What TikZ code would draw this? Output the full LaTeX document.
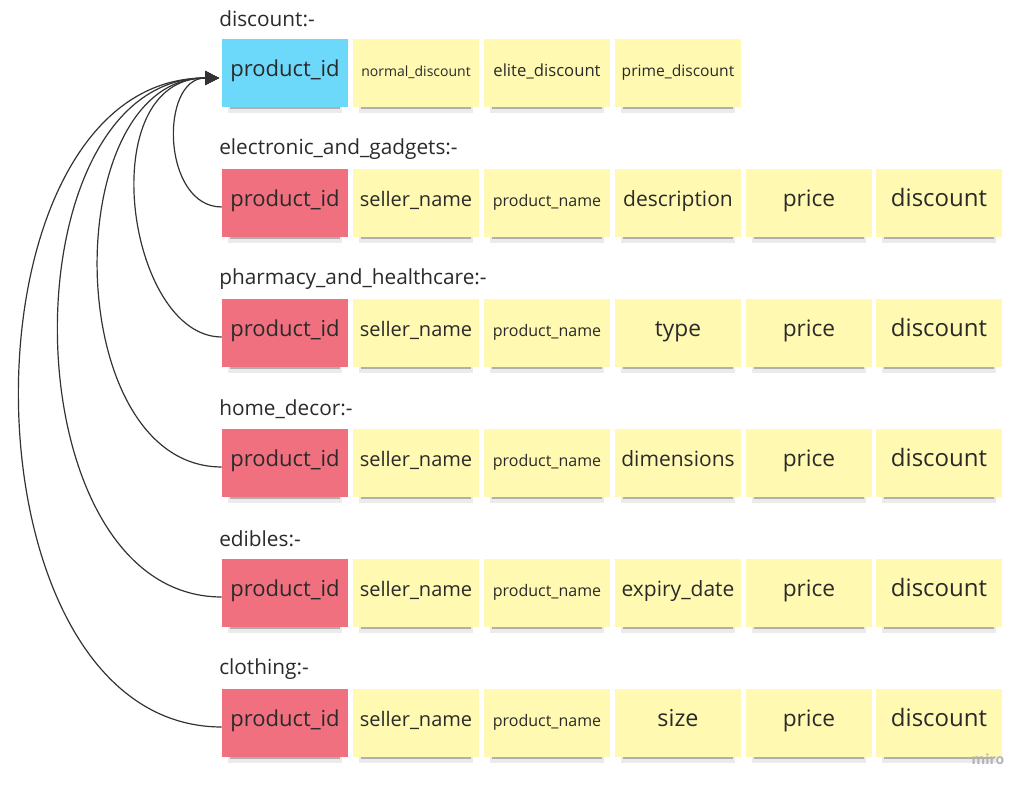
\documentclass[tikz,border=0pt]{standalone}
\usepackage{fontspec}
\setmainfont{Open Sans}
\usetikzlibrary{arrows.meta,shadows}

\definecolor{stickyyellow}{HTML}{FFF9B1}
\definecolor{stickypink}{HTML}{F0707F}
\definecolor{stickyblue}{HTML}{6CD8FA}
\definecolor{inktext}{HTML}{2A2A2A}

\begin{document}
\begin{tikzpicture}[
	x=0.75pt, y=0.75pt,
	note/.style={
		minimum width=94.5pt, minimum height=51pt,
		inner sep=0pt, align=center, text=inktext,
		text height=.78em, text depth=.22em,
		general shadow={fill=black, opacity=.08, shadow scale=.9, shadow yshift=-7.5pt},
		general shadow={fill=black, opacity=.25, shadow scale=.88, shadow yshift=-5.5pt},
	},
	fs/.style={font=\fontsize{#1}{#1}\selectfont},
	field/.style={note, fill=stickyyellow},
	pkey/.style={note, fill=stickyblue, fs=16.5},
	fkey/.style={note, fill=stickypink, fs=16.5},
	tname/.style={anchor=west, inner sep=0pt, text=inktext, fs=15.6},
	link/.style={draw=black!80, line width=0.9pt, -{Triangle[length=10.5pt,width=10.5pt]}},
]
\useasboundingbox (0,0) rectangle (1028,787);

% discount
\node[tname] (t-disc) at (219,768) {discount:-};
\node[pkey] (disc-id) at (285,714) {product\_id};
\node[field,fs=10.5] (disc-normal) at (416,714) {normal\_discount};
\node[field,fs=12.5] (disc-elite) at (547,714) {elite\_discount};
\node[field,fs=11.7] (disc-prime) at (678,714) {prime\_discount};

% electronic_and_gadgets
\node[tname] (t-eg) at (219,638) {electronic\_and\_gadgets:-};
\node[fkey] (eg-id) at (285,584) {product\_id};
\node[field,fs=15] (eg-seller) at (416,584) {seller\_name};
\node[field,fs=12] (eg-name) at (547,584) {product\_name};
\node[field,fs=15.75] (eg-desc) at (678,584) {description};
\node[field,fs=17] (eg-price) at (809,584) {price};
\node[field,fs=18] (eg-disc) at (939,584) {discount};

% pharmacy_and_healthcare
\node[tname] (t-ph) at (219,508) {pharmacy\_and\_healthcare:-};
\node[fkey] (ph-id) at (285,454) {product\_id};
\node[field,fs=15] (ph-seller) at (416,454) {seller\_name};
\node[field,fs=12] (ph-name) at (547,454) {product\_name};
\node[field,fs=17] (ph-type) at (678,454) {type};
\node[field,fs=17] (ph-price) at (809,454) {price};
\node[field,fs=18] (ph-disc) at (939,454) {discount};

% home_decor
\node[tname] (t-hd) at (219,378) {home\_decor:-};
\node[fkey] (hd-id) at (285,324) {product\_id};
\node[field,fs=15] (hd-seller) at (416,324) {seller\_name};
\node[field,fs=12] (hd-name) at (547,324) {product\_name};
\node[field,fs=15.75] (hd-dim) at (678,324) {dimensions};
\node[field,fs=17] (hd-price) at (809,324) {price};
\node[field,fs=18] (hd-disc) at (939,324) {discount};

% edibles
\node[tname] (t-ed) at (219,248) {edibles:-};
\node[fkey] (ed-id) at (285,194) {product\_id};
\node[field,fs=15] (ed-seller) at (416,194) {seller\_name};
\node[field,fs=12] (ed-name) at (547,194) {product\_name};
\node[field,fs=15.75] (ed-exp) at (678,194) {expiry\_date};
\node[field,fs=17] (ed-price) at (809,194) {price};
\node[field,fs=18] (ed-disc) at (939,194) {discount};

% clothing
\node[tname] (t-cl) at (219,118) {clothing:-};
\node[fkey] (cl-id) at (285,64) {product\_id};
\node[field,fs=15] (cl-seller) at (416,64) {seller\_name};
\node[field,fs=12] (cl-name) at (547,64) {product\_name};
\node[field,fs=17.5] (cl-size) at (678,64) {size};
\node[field,fs=17] (cl-price) at (809,64) {price};
\node[field,fs=18] (cl-disc) at (939,64) {discount};

\node[text=black!30, font=\bfseries\fontsize{10.5}{10.5}\selectfont] (wm) at (988,28) {miro};

% links back to discount
\coordinate (tip) at ([shift={(-2pt,-3.75pt)}]disc-id.west);
\draw[link] ([yshift=-3pt]eg-id.west) .. controls +(-60,0) and +(-60,0) .. (tip);
\draw[link] ([yshift=-3pt]ph-id.west) .. controls +(-95,0) and +(-128,0) .. (tip);
\draw[link] ([yshift=-3pt]hd-id.west) .. controls +(-162,0) and +(-162,0) .. (tip);
\draw[link] ([yshift=-3pt]ed-id.west) .. controls +(-215,0) and +(-215,0) .. (tip);
\draw[link] ([yshift=-3pt]cl-id.west) .. controls +(-267,0) and +(-267,0) .. (tip);

\end{tikzpicture}
\end{document}
